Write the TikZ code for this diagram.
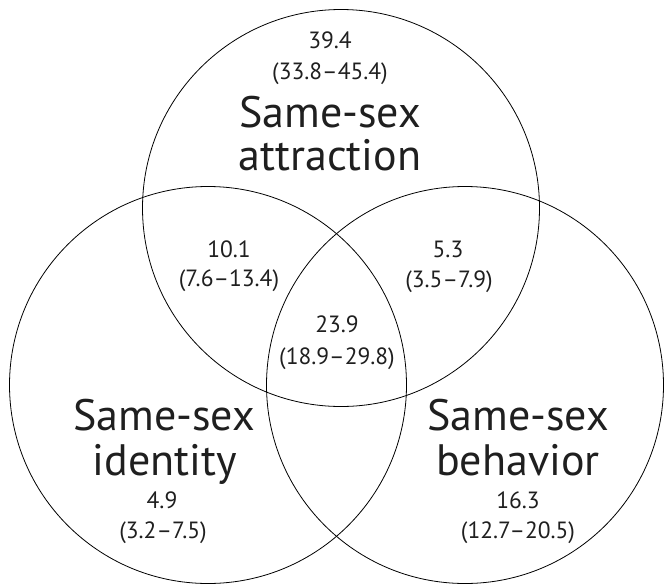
\documentclass[tikz,border=0pt]{standalone}
\usepackage{fontspec}
\setmainfont{PT Sans}
\begin{document}
\begin{tikzpicture}[x=1pt,y=-1pt,
  setcircle/.style={circle,draw=black,line width=0.8pt,minimum size=397pt,inner sep=0pt},
  small/.style={font=\fontsize{23.5}{28}\selectfont,anchor=base,inner sep=0pt,text=black!88},
  big/.style={font=\fontsize{44}{48}\selectfont,anchor=base,inner sep=0pt,text=black!88}]
\useasboundingbox (0,0) rectangle (664,584);
\node[setcircle] (ctop) at (341,208) {};
\node[setcircle] (cleft) at (208,385) {};
\node[setcircle] (cright) at (465,385) {};
% top circle
\node[small] (a1) at (330,48) {39.4};
\node[small] (a2) at (330,79) {(33.8–45.4)};
\node[big] (a3) at (330,127) {Same-sex};
\node[big] (a4) at (330,170) {attraction};
% attraction & identity
\node[small] (ai1) at (229,257) {10.1};
\node[small] (ai2) at (229,286) {(7.6–13.4)};
% attraction & behavior
\node[small] (ab1) at (448,257) {5.3};
\node[small] (ab2) at (449,287) {(3.5–7.9)};
% all three
\node[small] (all1) at (337,332) {23.9};
\node[small] (all2) at (337,364) {(18.9–29.8)};
% identity
\node[big] (i1) at (164,430) {Same-sex};
\node[big] (i2) at (165,475) {identity};
\node[small] (i3) at (162,508) {4.9};
\node[small] (i4) at (163,538) {(3.2–7.5)};
% behavior
\node[big] (b1) at (518,430) {Same-sex};
\node[big] (b2) at (518,475) {behavior};
\node[small] (b3) at (518,508) {16.3};
\node[small] (b4) at (518,538) {(12.7–20.5)};
\end{tikzpicture}
\end{document}
